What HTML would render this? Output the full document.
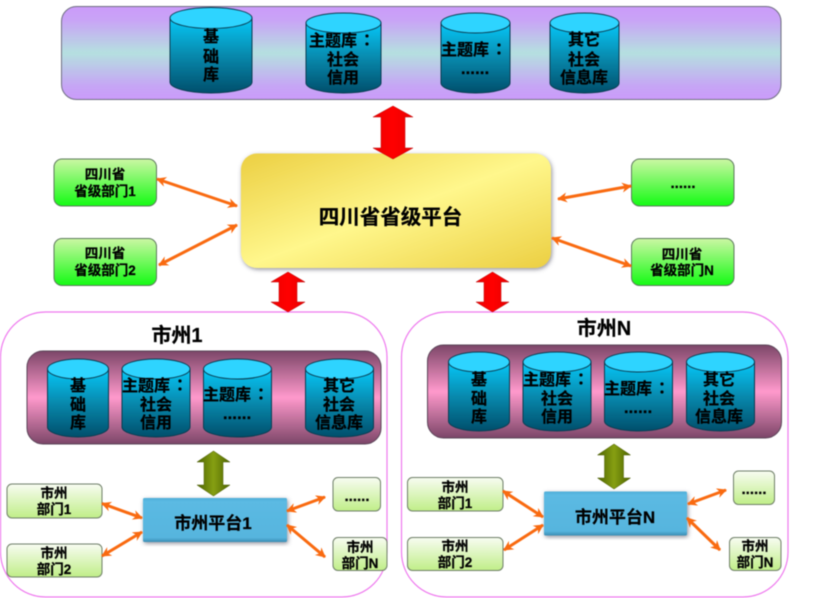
<!DOCTYPE html>
<html><head><meta charset="utf-8">
<style>
html,body{margin:0;padding:0;background:#fff;width:815px;height:598px;overflow:hidden}
svg{display:block;position:absolute;left:0;top:0;filter:blur(.45px)}
text{font-family:"Liberation Sans","Noto Sans CJK SC",sans-serif;font-weight:700;fill:#000;stroke:#000;stroke-width:.25px;text-anchor:middle}
.c{font-size:16px}.s{font-size:13.5px}
.p{font-family:"Noto Sans CJK TC",sans-serif}
</style></head><body>
<svg width="815" height="598" viewBox="0 0 815 598" xmlns="http://www.w3.org/2000/svg">
<defs>
<linearGradient id="top" x1="0" y1="0" x2="0" y2="1"><stop offset="0" stop-color="#cb9bfa"/><stop offset=".15" stop-color="#c9a4f6"/><stop offset=".5" stop-color="#b5e0e0"/><stop offset=".85" stop-color="#c6a6f5"/><stop offset="1" stop-color="#cb9bfa"/></linearGradient>
<linearGradient id="city" x1="0" y1="0" x2="0" y2="1"><stop offset="0" stop-color="#7c4668"/><stop offset=".5" stop-color="#ff99cc"/><stop offset="1" stop-color="#7c4668"/></linearGradient>
<linearGradient id="cyl" x1="0" y1="0" x2="0" y2="1"><stop offset="0" stop-color="#06c8f8"/><stop offset=".5" stop-color="#0889ad"/><stop offset="1" stop-color="#004f6c"/></linearGradient>
<linearGradient id="green" x1="0" y1="0" x2="0" y2="1"><stop offset="0" stop-color="#ccf7a4"/><stop offset="1" stop-color="#14fb14"/></linearGradient>
<linearGradient id="pale" x1="0" y1="0" x2="0" y2="1"><stop offset="0" stop-color="#f8fcf2"/><stop offset="1" stop-color="#c0ee88"/></linearGradient>
<linearGradient id="yellow" x1="0" y1="0" x2="1" y2="1"><stop offset="0" stop-color="#eccf42"/><stop offset=".5" stop-color="#fff78c"/><stop offset="1" stop-color="#eccf42"/></linearGradient>
<linearGradient id="red" x1="0" y1="0" x2="1" y2="0"><stop offset="0" stop-color="#ee0000"/><stop offset=".5" stop-color="#ff0000"/><stop offset="1" stop-color="#e80000"/></linearGradient>
<linearGradient id="olive" x1="0" y1="0" x2="1" y2="0"><stop offset="0" stop-color="#4d6400"/><stop offset=".5" stop-color="#869f12"/><stop offset="1" stop-color="#4d6400"/></linearGradient>
<linearGradient id="blue" x1="0" y1="0" x2="0" y2="1"><stop offset="0" stop-color="#4eaed8"/><stop offset=".08" stop-color="#5bbae3"/><stop offset=".9" stop-color="#57b5de"/><stop offset="1" stop-color="#3a8db4"/></linearGradient>
<filter id="sh" x="-5%" y="-8%" width="110%" height="118%"><feDropShadow dx="1" dy="1.5" stdDeviation="2.200" flood-color="#556" flood-opacity=".65"/></filter>
<marker id="ar" viewBox="0 0 10 10" refX="9" refY="5" markerWidth="11" markerHeight="10" markerUnits="userSpaceOnUse" orient="auto-start-reverse"><path d="M0 0L10 5L0 10L3 5Z" fill="#f96a10"/></marker>
</defs>

<!-- top panel -->
<rect x="61.500" y="6.500" width="719.500" height="93" rx="15" fill="url(#top)" stroke="#6e6e80" stroke-width="1"/>
<g stroke="#0b3d52" stroke-width="1">
<path d="M170 18V82A41 11 0 0 0 252 82V18Z" fill="url(#cyl)"/><ellipse cx="211" cy="18" rx="41" ry="10.500" fill="#2ed4ff"/>
<path d="M306 23V83A37.500 10 0 0 0 381 83V23Z" fill="url(#cyl)"/><ellipse cx="343.500" cy="23" rx="37.500" ry="10" fill="#2ed4ff"/>
<path d="M441 23V83A34.500 10 0 0 0 510 83V23Z" fill="url(#cyl)"/><ellipse cx="475.500" cy="23" rx="34.500" ry="10" fill="#2ed4ff"/>
<path d="M550 23V83A34.500 10 0 0 0 619 83V23Z" fill="url(#cyl)"/><ellipse cx="584.500" cy="23" rx="34.500" ry="10" fill="#2ed4ff"/>
</g>
<text class="c" x="211" y="42">基</text><text class="c" x="211" y="62">础</text><text class="c" x="211" y="80">库</text>
<text class="c" x="342" y="46">主题库<tspan class="p" dx="2">：</tspan></text><text class="c" x="343" y="65">社会</text><text class="c" x="343" y="83">信用</text>
<text class="c" x="474" y="55">主题库<tspan class="p" dx="2">：</tspan></text><text class="c" x="475" y="74" style="font-size:17px">......</text>
<text class="c" x="584" y="45">其它</text><text class="c" x="584" y="65">社会</text><text class="c" x="584" y="83">信息库</text>

<!-- province platform -->
<rect x="241" y="153.500" width="310" height="114.500" rx="16" fill="url(#yellow)" filter="url(#sh)"/>
<text x="390.500" y="224" style="font-size:20.500px">四川省省级平台</text>

<!-- red arrows -->
<polygon points="393,106 413,117 405,117 405,148 413,148 393,159 373,148 381,148 381,117 373,117" fill="url(#red)" stroke="#b00" stroke-width=".5"/>

<!-- province departments -->
<g stroke="#5c7a5c" stroke-width="1">
<rect x="54" y="159" width="102.500" height="47" rx="8" fill="url(#green)"/>
<rect x="54" y="238.500" width="102.500" height="47" rx="8" fill="url(#green)"/>
<rect x="631.500" y="159" width="102.500" height="47" rx="8" fill="url(#green)"/>
<rect x="631.500" y="238.500" width="102.500" height="47" rx="8" fill="url(#green)"/>
</g>
<text class="s" x="105" y="179">四川省</text><text class="s" x="105" y="196">省级部门1</text>
<text class="s" x="105" y="258">四川省</text><text class="s" x="105" y="275">省级部门2</text>
<text class="s" x="683" y="188" style="font-size:15px">......</text>
<text class="s" x="682" y="259">四川省</text><text class="s" x="682" y="275">省级部门N</text>
<g stroke="#f96a10" stroke-width="3" fill="none">
<line x1="157" y1="179" x2="237" y2="206" marker-start="url(#ar)" marker-end="url(#ar)"/>
<line x1="159" y1="265" x2="237" y2="225" marker-start="url(#ar)" marker-end="url(#ar)"/>
<line x1="558" y1="199" x2="631" y2="186" marker-start="url(#ar)" marker-end="url(#ar)"/>
<line x1="552" y1="238" x2="631" y2="266" marker-start="url(#ar)" marker-end="url(#ar)"/>
</g>

<!-- city containers -->
<rect x="0.500" y="312" width="386.500" height="285" rx="45" fill="#fff" stroke="#ee78ee" stroke-width="1.200"/>
<rect x="401.500" y="312" width="386.500" height="285" rx="45" fill="#fff" stroke="#ee78ee" stroke-width="1.200"/>
<polygon points="288,272 305,282 297,282 297,302 305,302 288,312 271,302 279,302 279,282 271,282" fill="url(#red)" stroke="#b00" stroke-width=".5"/>
<polygon points="492.500,272 509,282 501,282 501,302 509,302 492.500,312 476,302 484,302 484,282 476,282" fill="url(#red)" stroke="#b00" stroke-width=".5"/>
<text x="177" y="342" style="font-size:20px">市州1</text>
<text x="604" y="335" style="font-size:20px">市州N</text>

<!-- city 1 panel -->
<rect x="27" y="351" width="354" height="93" rx="16" fill="url(#city)" stroke="#5a4458" stroke-width="1"/>
<g stroke="#0b3d52" stroke-width="1">
<path d="M47.500 369V427A30.500 10 0 0 0 108.500 427V369Z" fill="url(#cyl)"/><ellipse cx="78" cy="369" rx="30.500" ry="10" fill="#2ed4ff"/>
<path d="M122 369V427A34 10 0 0 0 190 427V369Z" fill="url(#cyl)"/><ellipse cx="156" cy="369" rx="34" ry="10" fill="#2ed4ff"/>
<path d="M203.500 369V427A34 10 0 0 0 271.500 427V369Z" fill="url(#cyl)"/><ellipse cx="237.500" cy="369" rx="34" ry="10" fill="#2ed4ff"/>
<path d="M305.500 369V427A34 10 0 0 0 373.500 427V369Z" fill="url(#cyl)"/><ellipse cx="339.500" cy="369" rx="34" ry="10" fill="#2ed4ff"/>
</g>
<text class="c" x="78" y="391">基</text><text class="c" x="78" y="410">础</text><text class="c" x="78" y="428">库</text>
<text class="c" x="155" y="391">主题库<tspan class="p" dx="2">：</tspan></text><text class="c" x="156" y="410">社会</text><text class="c" x="156" y="428">信用</text>
<text class="c" x="236" y="400">主题库<tspan class="p" dx="2">：</tspan></text><text class="c" x="237" y="419" style="font-size:17px">......</text>
<text class="c" x="339" y="391">其它</text><text class="c" x="339" y="410">社会</text><text class="c" x="339" y="428">信息库</text>

<!-- city N panel -->
<rect x="427.500" y="345" width="354" height="93" rx="16" fill="url(#city)" stroke="#5a4458" stroke-width="1"/>
<g stroke="#0b3d52" stroke-width="1">
<path d="M448.500 362V421A30.500 10 0 0 0 509.500 421V362Z" fill="url(#cyl)"/><ellipse cx="479" cy="362" rx="30.500" ry="10" fill="#2ed4ff"/>
<path d="M523 362V421A34 10 0 0 0 591 421V362Z" fill="url(#cyl)"/><ellipse cx="557" cy="362" rx="34" ry="10" fill="#2ed4ff"/>
<path d="M604.500 362V421A34 10 0 0 0 672.500 421V362Z" fill="url(#cyl)"/><ellipse cx="638.500" cy="362" rx="34" ry="10" fill="#2ed4ff"/>
<path d="M686.500 362V421A34 10 0 0 0 754.500 421V362Z" fill="url(#cyl)"/><ellipse cx="720.500" cy="362" rx="34" ry="10" fill="#2ed4ff"/>
</g>
<text class="c" x="479" y="385">基</text><text class="c" x="479" y="404">础</text><text class="c" x="479" y="422">库</text>
<text class="c" x="556" y="385">主题库<tspan class="p" dx="2">：</tspan></text><text class="c" x="557" y="404">社会</text><text class="c" x="557" y="422">信用</text>
<text class="c" x="637" y="394">主题库<tspan class="p" dx="2">：</tspan></text><text class="c" x="638" y="413" style="font-size:17px">......</text>
<text class="c" x="719" y="385">其它</text><text class="c" x="719" y="404">社会</text><text class="c" x="719" y="422">信息库</text>

<!-- olive arrows -->
<polygon points="213.500,451 230,462 223,462 223,485 230,485 213.500,496 197,485 204,485 204,462 197,462" fill="url(#olive)" stroke="#4a5a00" stroke-width=".5"/>
<polygon points="614,444 630.500,455 623.500,455 623.500,478 630.500,478 614,489 597.500,478 604.500,478 604.500,455 597.500,455" fill="url(#olive)" stroke="#4a5a00" stroke-width=".5"/>

<!-- city platforms -->
<rect x="143" y="498" width="144" height="44" rx="1.500" fill="url(#blue)" filter="url(#sh)"/>
<rect x="544" y="491.500" width="143" height="44" rx="1.500" fill="url(#blue)" filter="url(#sh)"/>
<text x="213" y="529" style="font-size:17px">市州平台1</text>
<text x="615" y="523" style="font-size:17px">市州平台N</text>

<!-- city departments -->
<g stroke="#6f7f68" stroke-width="1" fill="url(#pale)">
<rect x="7" y="484" width="95" height="34" rx="5"/>
<rect x="7" y="544" width="95" height="33" rx="5"/>
<rect x="333" y="477.500" width="47.500" height="33.500" rx="5"/>
<rect x="333" y="537.500" width="54" height="33" rx="5"/>
<rect x="407.500" y="477.500" width="95.500" height="33.500" rx="5"/>
<rect x="407.500" y="537.500" width="95.500" height="33" rx="5"/>
<rect x="733.500" y="471" width="41" height="33.500" rx="5"/>
<rect x="729.500" y="537.500" width="51.500" height="33" rx="5"/>
</g>
<text class="s" x="54" y="498">市州</text><text class="s" x="54" y="514">部门1</text>
<text class="s" x="54" y="558">市州</text><text class="s" x="54" y="574">部门2</text>
<text class="s" x="357" y="501" style="font-size:15px">......</text>
<text class="s" x="360" y="552">市州</text><text class="s" x="360" y="568">部门N</text>
<text class="s" x="455" y="492">市州</text><text class="s" x="455" y="508">部门1</text>
<text class="s" x="455" y="551">市州</text><text class="s" x="455" y="567">部门2</text>
<text class="s" x="754" y="494" style="font-size:15px">......</text>
<text class="s" x="755" y="551">市州</text><text class="s" x="755" y="567">部门N</text>
<g stroke="#f96a10" stroke-width="3" fill="none">
<line x1="102" y1="503.500" x2="142" y2="518" marker-start="url(#ar)" marker-end="url(#ar)"/>
<line x1="102" y1="556" x2="142" y2="532" marker-start="url(#ar)" marker-end="url(#ar)"/>
<line x1="287" y1="511" x2="325" y2="497" marker-start="url(#ar)" marker-end="url(#ar)"/>
<line x1="287" y1="525" x2="325" y2="557" marker-start="url(#ar)" marker-end="url(#ar)"/>
<line x1="503" y1="491" x2="543" y2="517" marker-start="url(#ar)" marker-end="url(#ar)"/>
<line x1="504" y1="550" x2="543" y2="525" marker-start="url(#ar)" marker-end="url(#ar)"/>
<line x1="688" y1="504" x2="726" y2="490" marker-start="url(#ar)" marker-end="url(#ar)"/>
<line x1="687" y1="518" x2="720" y2="550" marker-start="url(#ar)" marker-end="url(#ar)"/>
</g>
</svg>
</body></html>
